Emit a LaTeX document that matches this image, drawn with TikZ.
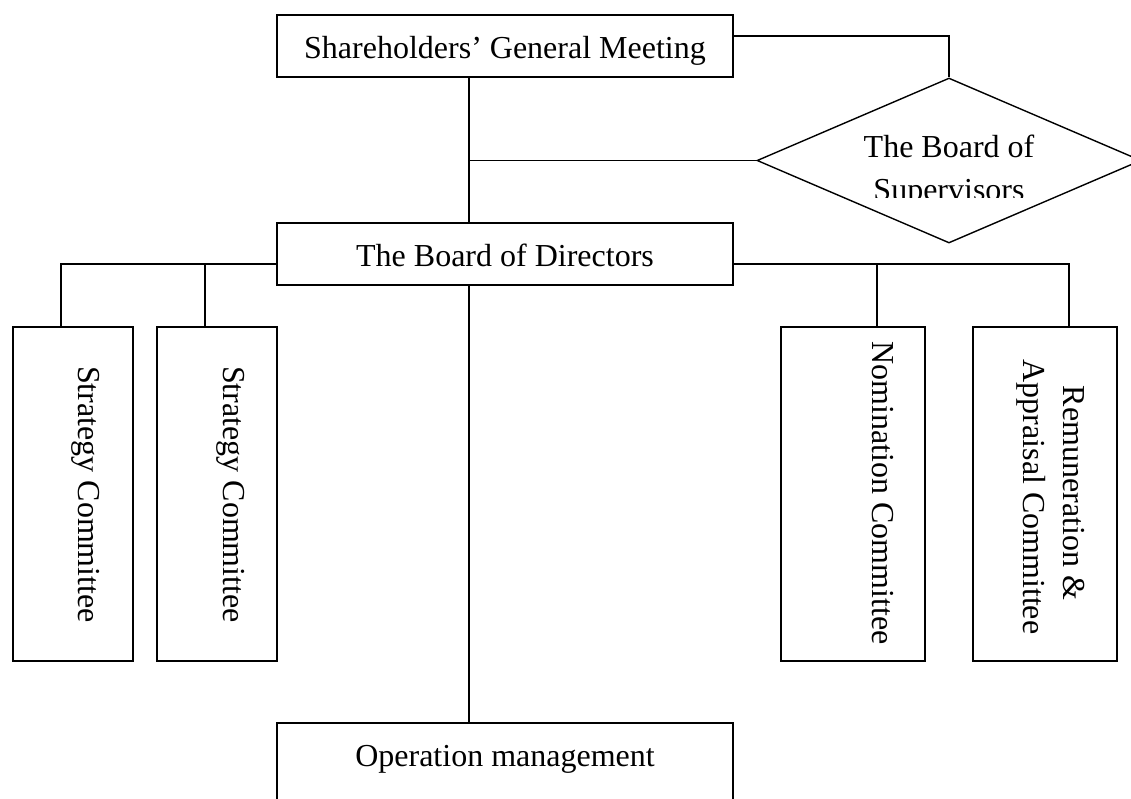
\documentclass[tikz,border=0pt]{standalone}
\usepackage{fontspec}
\setmainfont{Liberation Serif}
\usetikzlibrary{shapes.geometric}
\begin{document}
\begin{tikzpicture}[x=1pt,y=-1pt,
  box/.style={draw,line width=1.4pt,rectangle,inner sep=0pt},
  txt/.style={font=\fontsize{32}{38}\selectfont,inner sep=0pt,anchor=base},
  vtxt/.style={txt,rotate=-90},
  conn/.style={line width=1.4pt}]
\useasboundingbox (0,0) rectangle (1131,798);
\fill[white] (0,0) rectangle (1131,798);
% top box
\node[box,minimum width=456pt,minimum height=62pt] (sgm) at (505,46) {};
\node[txt] (sgmt) at (505,58) {Shareholders’ General Meeting};
% supervisors diamond
\node[draw,line width=1.4pt,diamond,inner sep=0pt,minimum width=384pt,minimum height=165pt] (sup) at (949,160.5) {};
\node[txt] (supt1) at (949,157) {The Board of};
\begin{scope}
\clip (757,165) rectangle (1141,197);
\node[txt] (supt2) at (949,200) {Supervisors};
\end{scope}
% directors
\node[box,minimum width=456pt,minimum height=62pt] (dir) at (505,254) {};
\node[txt] (dirt) at (505,266) {The Board of Directors};
% committees
\node[box,minimum width=120pt,minimum height=334pt] (s1) at (73,494) {};
\node[vtxt] (s1t) at (78,494.5) {Strategy Committee};
\node[box,minimum width=120pt,minimum height=334pt] (s2) at (217,494) {};
\node[vtxt] (s2t) at (223,494.5) {Strategy Committee};
\node[box,minimum width=144pt,minimum height=334pt] (s3) at (853,494) {};
\node[vtxt] (s3t) at (872,493) {Nomination Committee};
\node[box,minimum width=144pt,minimum height=334pt] (s4) at (1045,494) {};
\node[vtxt] (s4t1) at (1063,493) {Remuneration \&};
\node[vtxt] (s4t2) at (1023,497) {Appraisal Committee};
% operation
\node[box,minimum width=456pt,minimum height=100pt] (op) at (505,773) {};
\node[txt] (opt) at (505,766) {Operation management};
% connectors
\draw[conn] ([yshift=10pt]sgm.east) -| (sup.north);
\coordinate (trunk) at ([xshift=-36pt]dir.north);
\draw[conn] ([xshift=-36pt]sgm.south) -- (trunk);
\draw[conn] (sup.west) -- (sup.west -| trunk);
\coordinate (bl) at ([yshift=-10pt]dir.west);
\coordinate (br) at ([yshift=-10pt]dir.east);
\draw[conn] (bl) -| ([xshift=-12pt]s1.north);
\coordinate (s2top) at ([xshift=-12pt]s2.north);
\draw[conn] (s2top) -- (s2top |- bl);
\draw[conn] (br) -| ([xshift=24pt]s4.north);
\coordinate (s3top) at ([xshift=24pt]s3.north);
\draw[conn] (s3top) -- (s3top |- br);
\draw[conn] ([xshift=-36pt]dir.south) -- ([xshift=-36pt]op.north);
\end{tikzpicture}
\end{document}
